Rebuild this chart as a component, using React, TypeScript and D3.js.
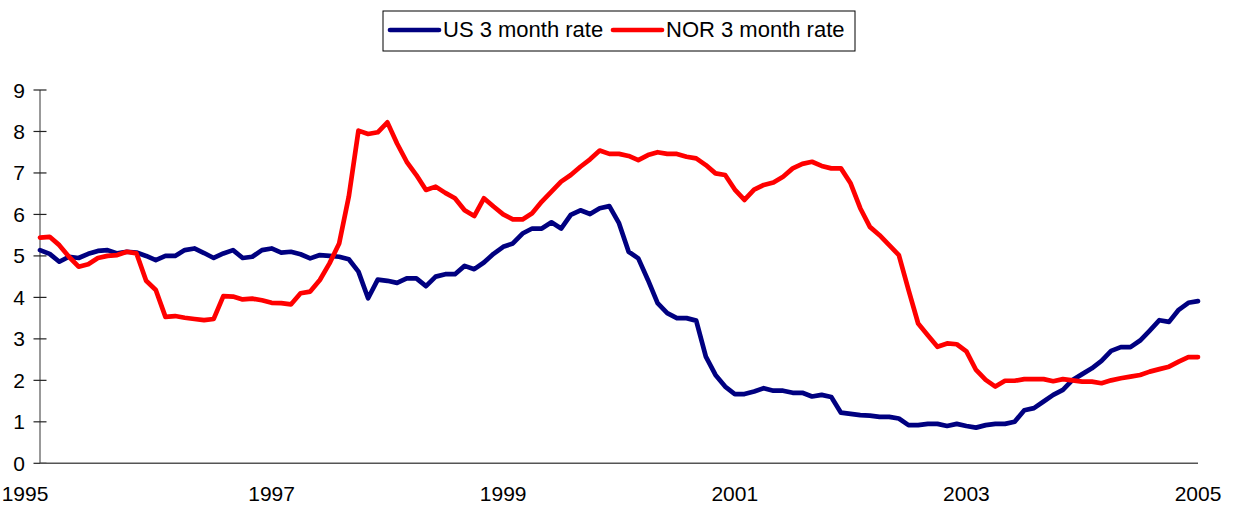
import React from "react";
import * as d3 from "d3";

const usRate: number[] = [
  5.14, 5.05, 4.86, 4.98, 4.95, 5.05, 5.12, 5.14, 5.06, 5.1, 5.08, 5.0,
  4.9, 5.0, 5.0, 5.14, 5.18, 5.07, 4.95, 5.06, 5.14, 4.95, 4.98, 5.14,
  5.18, 5.08, 5.1, 5.04, 4.94, 5.02, 5.0, 4.98, 4.92, 4.62, 3.98, 4.43,
  4.4, 4.35, 4.46, 4.46, 4.27, 4.5, 4.56, 4.56, 4.76, 4.68, 4.84, 5.05,
  5.22, 5.3, 5.54, 5.66, 5.66, 5.81, 5.66, 5.99, 6.1, 6.01, 6.15, 6.2,
  5.79, 5.1, 4.94, 4.42, 3.86, 3.62, 3.5, 3.5, 3.44, 2.57, 2.13, 1.85,
  1.67, 1.67, 1.73, 1.81, 1.75, 1.75, 1.7, 1.7, 1.61, 1.65, 1.6, 1.22,
  1.19, 1.16, 1.15, 1.12, 1.12, 1.08, 0.92, 0.92, 0.95, 0.95, 0.9, 0.95,
  0.9, 0.86, 0.92, 0.95, 0.95, 1.0, 1.28, 1.33, 1.49, 1.65, 1.77, 2.01,
  2.15, 2.29, 2.47, 2.71, 2.8, 2.8, 2.96, 3.2, 3.45, 3.41, 3.7, 3.87,
  3.91,
];

const norRate: number[] = [
  5.44, 5.46, 5.26, 4.98, 4.74, 4.8, 4.95, 5.0, 5.02, 5.1, 5.06, 4.4,
  4.18, 3.53, 3.55, 3.51, 3.48, 3.45, 3.48, 4.03, 4.02, 3.95, 3.97, 3.93,
  3.87, 3.86, 3.83, 4.1, 4.14, 4.42, 4.82, 5.3, 6.43, 8.02, 7.94, 7.98,
  8.22, 7.71, 7.27, 6.95, 6.59, 6.67, 6.52, 6.39, 6.1, 5.96, 6.39, 6.19,
  6.0, 5.88, 5.88, 6.03, 6.31, 6.55, 6.79, 6.95, 7.15, 7.33, 7.54, 7.46,
  7.46, 7.41, 7.31, 7.43, 7.5, 7.46, 7.46, 7.39, 7.35, 7.19, 6.99, 6.95,
  6.6, 6.35, 6.6, 6.71, 6.77, 6.91, 7.11, 7.22, 7.27, 7.17, 7.11, 7.11,
  6.75, 6.15, 5.7, 5.5, 5.26, 5.02, 4.18, 3.37, 3.09, 2.81, 2.89, 2.87,
  2.7, 2.25, 2.01, 1.85, 1.99, 1.99, 2.03, 2.03, 2.03, 1.98, 2.03, 2.0,
  1.97, 1.97, 1.93, 2.0, 2.05, 2.09, 2.13, 2.21, 2.27, 2.33, 2.45, 2.56,
  2.56,
];

const yearLabels: string[] = ["1995", "1997", "1999", "2001", "2003", "2005"];
const yearMonthIndex: number[] = [0, 24, 48, 72, 96, 120];
const yTicks: number[] = [0, 1, 2, 3, 4, 5, 6, 7, 8, 9];
const seriesNames: string[] = ["US 3 month rate", "NOR 3 month rate"];
const seriesColors: string[] = ["#000080", "#ff0000"];

const W = 1233;
const H = 506;
const FONT = "'Liberation Sans', Arial, sans-serif";

export default function App() {
  const x = d3.scaleLinear().domain([0, 120]).range([40, 1198]);
  const y = d3.scaleLinear().domain([0, 9]).range([463.3, 90]);
  const line = d3
    .line<number>()
    .x((_, i) => x(i))
    .y((d) => y(d));
  const series = [usRate, norRate];

  return (
    <svg
      width={W}
      height={H}
      style={{ position: "absolute", left: 0, top: 0, background: "#fff" }}
      fontFamily={FONT}
    >
      <rect x={0} y={0} width={W} height={H} fill="#fff" />
      {/* y axis */}
      <line x1={40} x2={40} y1={y(9)} y2={y(0)} stroke="#777" strokeWidth={1.5} />
      {yTicks.map((t) => (
        <g key={t}>
          <line x1={33.5} x2={46.5} y1={y(t)} y2={y(t)} stroke="#222" strokeWidth={1.2} />
          <text
            x={25}
            y={y(t)}
            textAnchor="end"
            dominantBaseline="central"
            fontSize={21}
            fill="#000"
          >
            {t}
          </text>
        </g>
      ))}
      {/* x axis */}
      <line x1={40} x2={1198} y1={y(0)} y2={y(0)} stroke="#555" strokeWidth={1.5} />
      {yearLabels.map((lab, i) => (
        <text
          key={lab}
          x={i === 0 ? 25 : x(yearMonthIndex[i])}
          y={501}
          textAnchor="middle"
          fontSize={21}
          fill="#000"
        >
          {lab}
        </text>
      ))}
      {/* lines */}
      {series.map((s, i) => (
        <path
          key={i}
          d={line(s) || ""}
          fill="none"
          stroke={seriesColors[i]}
          strokeWidth={4.7}
          strokeLinejoin="round"
          strokeLinecap="round"
        />
      ))}
      {/* legend */}
      <rect x={383} y={11} width={472} height={40} fill="#fff" stroke="#000" strokeWidth={1} />
      {seriesNames.map((name, i) => {
        const lx = i === 0 ? 390 : 613;
        return (
          <g key={name}>
            <line
              x1={lx}
              x2={lx + 49}
              y1={30}
              y2={30}
              stroke={seriesColors[i]}
              strokeWidth={4.7}
              strokeLinecap="round"
            />
            <text x={lx + 53} y={37} fontSize={22} fill="#000">
              {name}
            </text>
          </g>
        );
      })}
    </svg>
  );
}
